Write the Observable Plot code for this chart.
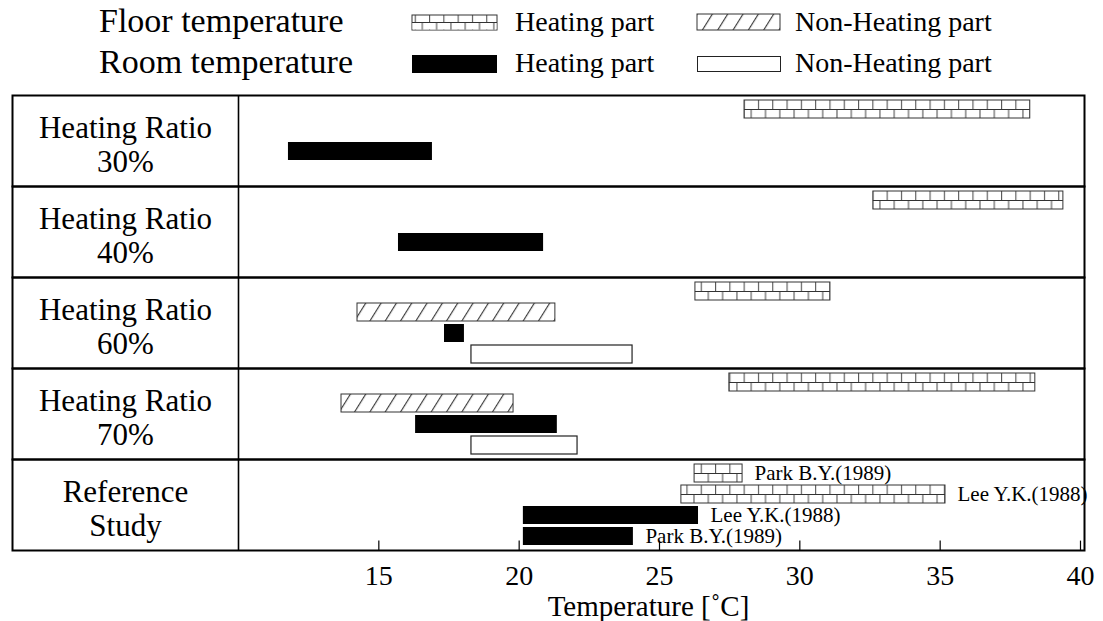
<!DOCTYPE html>
<html><head><meta charset="utf-8">
<script src="https://cdn.jsdelivr.net/npm/d3@7"></script>
<script src="https://cdn.jsdelivr.net/npm/@observablehq/plot@0.6"></script>
<style>
body{margin:0;background:#fff;font-family:"Liberation Serif",serif;}
#wrap{position:relative;width:1103px;height:621px;overflow:hidden;}
#legend{display:block;width:1103px;height:90px;}
#chart svg{display:block;}
</style></head><body>
<div id="wrap"><svg id="legend" width="1103" height="90"></svg><div id="chart"></div></div>
<script>
// ---- data ----
const rowKeys  = ["r30", "r40", "r60", "r70", "ref"];
const rowLine1 = ["Heating Ratio", "Heating Ratio", "Heating Ratio", "Heating Ratio", "Reference"];
const rowLine2 = ["30%", "40%", "60%", "70%", "Study"];

const barRow   = ["r30","r30","r40","r40","r60","r60","r60","r60","r70","r70","r70","r70","ref","ref","ref","ref"];
const barLane  = [0, 2, 0, 2, 0, 1, 2, 3, 0, 1, 2, 3, 0, 1, 2, 3];
const barKind  = ["FH","RH","FH","RH","FH","FN","RH","RN","FH","FN","RH","RN","FH","FH","RH","RH"];
const barStart = [28.03, 11.78, 32.62, 15.70, 26.28, 14.24, 17.34, 18.30, 27.49, 13.67, 16.31, 18.30, 26.25, 25.78, 20.15, 20.15];
const barEnd   = [38.21, 16.91, 39.39, 20.87, 31.09, 21.29, 18.05, 24.04, 38.39, 19.80, 21.36, 22.08, 27.96, 35.19, 26.39, 24.07];
const barLabel = ["","","","","","","","","","","","","Park B.Y.(1989)","Lee Y.K.(1988)","Lee Y.K.(1988)","Park B.Y.(1989)"];

const xTicks = [15, 20, 25, 30, 35, 40];
const axisLabel = "Temperature [˚C]";
const legendGroups = ["Floor temperature", "Room temperature"];
const legendParts  = ["Heating part", "Non-Heating part"];

// ---- patterns ----
function addDefs(sel, p) {
  const defs = sel.insert("defs", ":first-child");
  [["vlA", 0.6], ["vlB", 7.6]].forEach(([id, x]) => {
    const vl = defs.append("pattern").attr("id", p + id).attr("patternUnits", "userSpaceOnUse")
      .attr("width", 14.3).attr("height", 10);
    vl.append("rect").attr("width", 14.3).attr("height", 10).attr("fill", "white");
    vl.append("line").attr("x1", x).attr("x2", x).attr("y1", 0).attr("y2", 10)
      .attr("stroke", "#444").attr("stroke-width", 1);
  });
  const h = defs.append("pattern").attr("id", p + "hatch").attr("patternUnits", "userSpaceOnUse")
    .attr("width", 13).attr("height", 10).attr("patternTransform", "rotate(32)");
  h.append("rect").attr("width", 13).attr("height", 10).attr("fill", "white");
  h.append("line").attr("x1", 0.6).attr("x2", 0.6).attr("y1", 0).attr("y2", 10)
    .attr("stroke", "#333").attr("stroke-width", 1.1);
}

// ---- legend ----
const lg = d3.select("#legend");
addDefs(lg, "L");
const ff = '"Liberation Serif", serif';
lg.selectAll("text.g").data(legendGroups).join("text").attr("class", "g")
  .attr("x", 99).attr("y", (d, i) => 32 + i * 41).attr("font-size", 34).attr("font-family", ff).text(d => d);
[[0, 0], [1, 0], [0, 1], [1, 1]].forEach(([c, r]) => {
  lg.append("text").attr("x", c ? 795 : 515).attr("y", 31 + r * 41)
    .attr("font-size", 28).attr("font-family", ff).text(legendParts[c]);
});
lg.append("rect").attr("x", 412).attr("y", 15).attr("width", 85).attr("height", 15)
  .attr("fill", "url(#LvlA)").attr("stroke", "#333");
lg.append("rect").attr("x", 412.5).attr("y", 22.5).attr("width", 84).attr("height", 7)
  .attr("fill", "url(#LvlB)");
lg.append("line").attr("x1", 412).attr("x2", 497).attr("y1", 22.5).attr("y2", 22.5).attr("stroke", "#333");
lg.append("rect").attr("x", 697).attr("y", 14).attr("width", 83).attr("height", 16)
  .attr("fill", "url(#Lhatch)").attr("stroke", "#333");
lg.append("rect").attr("x", 412).attr("y", 55).attr("width", 85).attr("height", 18).attr("fill", "black");
lg.append("rect").attr("x", 697.5).attr("y", 56.5).attr("width", 83).attr("height", 15)
  .attr("fill", "white").attr("stroke", "#222");

// ---- chart ----
const data = barRow.map((r, i) => ({row: r, lane: barLane[i], kind: barKind[i], start: barStart[i], end: barEnd[i], label: barLabel[i]}));
const rows = rowKeys.map((k, i) => ({row: k, text: rowLine1[i] + "\n" + rowLine2[i]}));
const H = 531, MT = 3, MB = 70;
const FH = (H - MT - MB) / rowKeys.length;
const kind = k => data.filter(d => d.kind === k);
const yPadIn = 0.16, yPadOut = 0.16;
const step = FH / (4 - yPadIn + 2 * yPadOut);
const bw = step * (1 - yPadIn);

const chart = Plot.plot({
  width: 1103, height: H, marginTop: MT, marginBottom: MB, marginLeft: 238, marginRight: 23,
  style: {fontFamily: ff, fontSize: "27px", color: "black", background: "white", overflow: "visible"},
  x: {domain: [10, 40], ticks: xTicks},
  y: {domain: [0, 1, 2, 3], paddingInner: yPadIn, paddingOuter: yPadOut, axis: null},
  fy: {domain: rowKeys, padding: 0, axis: null},
  marks: [
    Plot.frame({insetLeft: -226, insetRight: -4, stroke: "black", strokeWidth: 2}),
    Plot.ruleX([10], {stroke: "black", strokeWidth: 1.6}),
    Plot.barX(kind("FH"), {x1: "start", x2: "end", y: "lane", fy: "row", fill: "url(#PvlA)"}),
    Plot.barX(kind("FH"), {x1: "start", x2: "end", y: "lane", fy: "row", fill: "url(#PvlB)", insetTop: bw / 2, insetLeft: 1, insetRight: 1}),
    Plot.ruleY(kind("FH"), {x1: "start", x2: "end", y: "lane", fy: "row", stroke: "#333", strokeWidth: 1}),
    Plot.barX(kind("FH"), {x1: "start", x2: "end", y: "lane", fy: "row", fill: "none", stroke: "#333", strokeWidth: 1}),
    Plot.barX(kind("FN"), {x1: "start", x2: "end", y: "lane", fy: "row", fill: "url(#Phatch)", stroke: "#333", strokeWidth: 1}),
    Plot.barX(kind("RH"), {x1: "start", x2: "end", y: "lane", fy: "row", fill: "black"}),
    Plot.barX(kind("RN"), {x1: "start", x2: "end", y: "lane", fy: "row", fill: "white", stroke: "#222", strokeWidth: 1.2}),
    Plot.tickX(xTicks, {x: d => d, fy: () => "ref", insetTop: FH - 10, stroke: "black", strokeWidth: 1.2}),
    Plot.axisX({ticks: xTicks, tickSize: 0, tickPadding: 15, fontSize: 28, label: null}),
    Plot.text(rows, {fy: "row", text: "text", frameAnchor: "left", dx: -113, dy: 3.5, textAnchor: "middle", lineAnchor: "middle", fontSize: 31, lineHeight: 1.1}),
    Plot.text(data.filter(d => d.label), {x: "end", y: "lane", fy: "row", text: "label", textAnchor: "start", dx: 12, fontSize: 21}),
    Plot.text([{row: "ref", t: axisLabel}], {fy: "row", text: "t", frameAnchor: "bottom", lineAnchor: "middle", dx: -11, dy: 56, fontSize: 29})
  ]
});
addDefs(d3.select(chart), "P");
document.getElementById("chart").appendChild(chart);
</script>
</body></html>
